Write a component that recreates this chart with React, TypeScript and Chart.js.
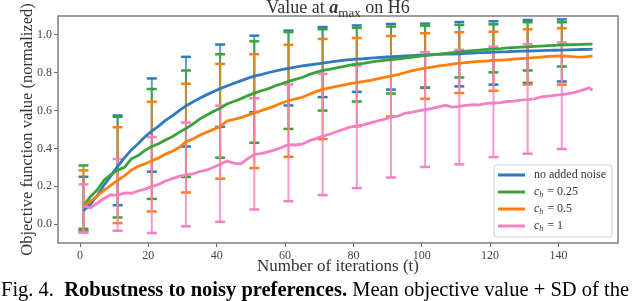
import React, { useEffect, useRef } from 'react';
import { Chart, registerables } from 'chart.js';

Chart.register(...registerables);

// ---- data ----
const iterations = [1, 3, 5, 7, 9, 11, 13, 15, 17, 19, 21, 23, 25, 27, 29, 31, 33, 35, 37, 39, 41, 43, 45, 47, 49, 51, 53, 55, 57, 59, 61, 63, 65, 67, 69, 71, 73, 75, 77, 79, 81, 83, 85, 87, 89, 91, 93, 95, 97, 99, 101, 103, 105, 107, 109, 111, 113, 115, 117, 119, 121, 123, 125, 127, 129, 131, 133, 135, 137, 139, 141, 143, 145, 147, 149, 150];

const noNoise = [0.070, 0.105, 0.150, 0.205, 0.255, 0.305, 0.350, 0.392, 0.425, 0.462, 0.492, 0.518, 0.548, 0.572, 0.600, 0.625, 0.645, 0.665, 0.683, 0.700, 0.716, 0.730, 0.744, 0.757, 0.770, 0.782, 0.790, 0.800, 0.808, 0.816, 0.823, 0.830, 0.836, 0.841, 0.846, 0.851, 0.856, 0.861, 0.865, 0.869, 0.872, 0.874, 0.877, 0.880, 0.882, 0.884, 0.887, 0.889, 0.891, 0.893, 0.895, 0.896, 0.897, 0.898, 0.899, 0.900, 0.902, 0.904, 0.906, 0.907, 0.909, 0.910, 0.911, 0.913, 0.914, 0.915, 0.916, 0.917, 0.918, 0.919, 0.920, 0.921, 0.922, 0.923, 0.924, 0.925];

const noise025 = [0.097, 0.145, 0.180, 0.232, 0.262, 0.285, 0.300, 0.345, 0.362, 0.390, 0.410, 0.425, 0.445, 0.462, 0.485, 0.505, 0.528, 0.555, 0.575, 0.595, 0.612, 0.635, 0.648, 0.662, 0.678, 0.692, 0.705, 0.715, 0.730, 0.742, 0.754, 0.765, 0.775, 0.790, 0.802, 0.812, 0.818, 0.826, 0.833, 0.840, 0.845, 0.850, 0.856, 0.861, 0.866, 0.870, 0.874, 0.878, 0.882, 0.886, 0.890, 0.894, 0.898, 0.902, 0.906, 0.910, 0.914, 0.917, 0.920, 0.923, 0.926, 0.928, 0.931, 0.933, 0.935, 0.937, 0.939, 0.941, 0.943, 0.945, 0.947, 0.948, 0.949, 0.950, 0.951, 0.951];

const noise05 = [0.097, 0.120, 0.148, 0.178, 0.205, 0.232, 0.255, 0.285, 0.305, 0.318, 0.335, 0.350, 0.370, 0.385, 0.405, 0.435, 0.450, 0.470, 0.485, 0.500, 0.515, 0.545, 0.553, 0.562, 0.575, 0.588, 0.600, 0.612, 0.625, 0.640, 0.652, 0.662, 0.670, 0.685, 0.700, 0.712, 0.720, 0.728, 0.735, 0.742, 0.748, 0.754, 0.760, 0.768, 0.775, 0.782, 0.790, 0.800, 0.810, 0.818, 0.825, 0.830, 0.836, 0.840, 0.846, 0.851, 0.854, 0.857, 0.860, 0.862, 0.865, 0.867, 0.869, 0.872, 0.875, 0.877, 0.880, 0.883, 0.886, 0.888, 0.889, 0.887, 0.884, 0.883, 0.887, 0.889];

const noise1 = [0.097, 0.085, 0.110, 0.135, 0.155, 0.152, 0.165, 0.163, 0.175, 0.185, 0.198, 0.210, 0.228, 0.240, 0.252, 0.260, 0.265, 0.278, 0.285, 0.300, 0.316, 0.333, 0.322, 0.318, 0.345, 0.368, 0.372, 0.382, 0.392, 0.405, 0.420, 0.418, 0.422, 0.440, 0.452, 0.465, 0.475, 0.488, 0.500, 0.512, 0.518, 0.525, 0.535, 0.545, 0.553, 0.565, 0.570, 0.585, 0.590, 0.598, 0.605, 0.612, 0.620, 0.628, 0.618, 0.622, 0.628, 0.632, 0.630, 0.638, 0.640, 0.642, 0.648, 0.650, 0.655, 0.658, 0.662, 0.672, 0.676, 0.680, 0.684, 0.690, 0.698, 0.708, 0.720, 0.707];

const errX = [1, 11, 21, 31, 41, 51, 61, 71, 81, 91, 101, 111, 121, 131, 141];
const noNoiseHi = [0.25, 0.574, 0.77, 0.884, 0.949, 0.996, 1.023, 1.042, 1.05, 1.058, 1.06, 1.068, 1.072, 1.079, 1.082];
const noNoiseLo = [-0.035, 0.10, 0.277, 0.41, 0.514, 0.592, 0.627, 0.671, 0.699, 0.711, 0.72, 0.728, 0.737, 0.746, 0.754];
const noise025Hi = [0.31, 0.567, 0.714, 0.812, 0.898, 0.966, 1.015, 1.03, 1.037, 1.044, 1.049, 1.053, 1.056, 1.067, 1.067];
const noise025Lo = [-0.025, 0.035, 0.133, 0.249, 0.351, 0.43, 0.503, 0.6, 0.648, 0.69, 0.722, 0.775, 0.802, 0.812, 0.833];
const noise05Hi = [0.284, 0.512, 0.647, 0.742, 0.847, 0.898, 0.948, 0.979, 0.984, 0.994, 1.009, 1.014, 1.017, 1.03, 1.035];
const noise05Lo = [-0.04, 0.005, 0.067, 0.167, 0.24, 0.296, 0.356, 0.449, 0.517, 0.568, 0.662, 0.693, 0.705, 0.738, 0.737];
const noise1Hi = [0.21, 0.344, 0.46, 0.537, 0.626, 0.665, 0.738, 0.794, 0.838, 0.886, 0.909, 0.921, 0.938, 0.951, 0.96];
const noise1Lo = [-0.045, -0.035, -0.047, -0.012, 0.012, 0.077, 0.121, 0.153, 0.19, 0.246, 0.302, 0.316, 0.354, 0.372, 0.397];

const xTicks = [0, 20, 40, 60, 80, 100, 120, 140];
const yTicks = [0.0, 0.2, 0.4, 0.6, 0.8, 1.0];

const seriesNames = ['no added noise', 'c_h = 0.25', 'c_h = 0.5', 'c_h = 1'];
const seriesColors = ['#2f7bbd', '#3aa23a', '#ff7f0e', '#f47fc3'];
const seriesAlpha = ['rgba(47,123,189,0.75)', 'rgba(58,162,58,0.75)', 'rgba(255,127,14,0.75)', 'rgba(244,127,195,0.8)'];

const SERIF = '"Liberation Serif", "Times New Roman", serif';

const means = [noNoise, noise025, noise05, noise1];
const his = [noNoiseHi, noise025Hi, noise05Hi, noise1Hi];
const los = [noNoiseLo, noise025Lo, noise05Lo, noise1Lo];

const framePlugin = {
  id: 'frameAndLegend',
  afterDraw(chart: any) {
    const { ctx, chartArea } = chart;
    const { left, top, right, bottom } = chartArea;
    ctx.save();
    // frame
    ctx.strokeStyle = '#7d7d7d';
    ctx.lineWidth = 1.5;
    ctx.strokeRect(left, top, right - left, bottom - top);

    // legend
    const bw = 118;
    const bh = 72;
    const bx = right - 6 - bw;
    const by = bottom - 6 - bh;
    const r = 3;
    ctx.beginPath();
    ctx.moveTo(bx + r, by);
    ctx.lineTo(bx + bw - r, by);
    ctx.arcTo(bx + bw, by, bx + bw, by + r, r);
    ctx.lineTo(bx + bw, by + bh - r);
    ctx.arcTo(bx + bw, by + bh, bx + bw - r, by + bh, r);
    ctx.lineTo(bx + r, by + bh);
    ctx.arcTo(bx, by + bh, bx, by + bh - r, r);
    ctx.lineTo(bx, by + r);
    ctx.arcTo(bx, by, bx + r, by, r);
    ctx.closePath();
    ctx.fillStyle = 'rgba(255,255,255,0.85)';
    ctx.fill();
    ctx.strokeStyle = '#d0d0d0';
    ctx.lineWidth = 1;
    ctx.stroke();

    seriesNames.forEach((name, i) => {
      const yy = by + 10 + i * 17;
      ctx.strokeStyle = seriesColors[i];
      ctx.lineWidth = 3;
      ctx.beginPath();
      ctx.moveTo(bx + 4, yy);
      ctx.lineTo(bx + 31, yy);
      ctx.stroke();
      ctx.fillStyle = '#333';
      ctx.textBaseline = 'middle';
      ctx.textAlign = 'left';
      let tx = bx + 40;
      if (name.startsWith('c_h')) {
        ctx.font = `italic 12px ${SERIF}`;
        ctx.fillText('c', tx, yy);
        tx += ctx.measureText('c').width;
        ctx.font = `italic 8px ${SERIF}`;
        ctx.fillText('h', tx, yy + 3);
        tx += ctx.measureText('h').width + 1;
        ctx.font = `12px ${SERIF}`;
        ctx.fillText(name.slice(3), tx, yy);
      } else {
        ctx.font = `12px ${SERIF}`;
        ctx.fillText(name, tx, yy);
      }
    });
    ctx.restore();
  },
};

export default function App() {
  const ref = useRef<HTMLCanvasElement | null>(null);

  useEffect(() => {
    if (!ref.current) return;
    const datasets: any[] = [];
    means.forEach((m, i) => {
      datasets.push({
        label: seriesNames[i],
        data: iterations.map((x, k) => ({ x, y: m[k] })),
        borderColor: seriesColors[i],
        backgroundColor: seriesColors[i],
        borderWidth: 2.8,
        pointRadius: 0,
        tension: 0,
        order: 4 - i,
      });
    });
    his.forEach((hi, i) => {
      const pts: any[] = [];
      errX.forEach((x, k) => {
        pts.push({ x, y: los[i][k] });
        pts.push({ x, y: hi[k] });
        pts.push({ x, y: null });
      });
      datasets.push({
        label: seriesNames[i] + ' SD',
        data: pts,
        borderColor: seriesAlpha[i],
        borderWidth: 2,
        spanGaps: false,
        pointStyle: 'line',
        pointRadius: 5,
        pointBorderWidth: 2.5,
        pointBorderColor: seriesColors[i],
        pointBackgroundColor: seriesColors[i],
        order: 14 - i,
      });
    });

    const chart = new Chart(ref.current, {
      type: 'line',
      data: { datasets },
      plugins: [framePlugin],
      options: {
        responsive: false,
        animation: false,
        events: [],
        layout: { padding: { left: 0, top: 16, right: 22, bottom: 23 } },
        plugins: {
          legend: { display: false },
          tooltip: { enabled: false },
          title: { display: false },
        },
        scales: {
          x: {
            type: 'linear',
            min: -6.45,
            max: 157.45,
            afterBuildTicks: (scale: any) => {
              scale.ticks = xTicks.map((v) => ({ value: v }));
            },
            afterFit: (scale: any) => {
              scale.height = 35;
            },
            ticks: {
              color: '#444',
              font: { family: SERIF, size: 12 },
              padding: 2,
              maxRotation: 0,
              autoSkip: false,
            },
            grid: { drawOnChartArea: false, tickLength: 4, color: '#666' },
            border: { display: false },
            title: {
              display: true,
              text: 'Number of iterations (t)',
              color: '#333',
              font: { family: SERIF, size: 17 },
              padding: { top: 0, bottom: 1 },
            },
          },
          y: {
            type: 'linear',
            min: -0.1,
            max: 1.1,
            afterBuildTicks: (scale: any) => {
              scale.ticks = yTicks.map((v) => ({ value: v }));
            },
            afterFit: (scale: any) => {
              scale.width = 58;
            },
            ticks: {
              color: '#444',
              font: { family: SERIF, size: 12 },
              padding: 2,
              callback: (v: any) => Number(v).toFixed(1),
            },
            grid: { drawOnChartArea: false, tickLength: 4, color: '#666' },
            border: { display: false },
            title: {
              display: true,
              text: 'Objective function value (normalized)',
              color: '#333',
              font: { family: SERIF, size: 16.5 },
              padding: { top: 18, bottom: 0 },
            },
          },
        },
      },
    });
    return () => chart.destroy();
  }, []);

  return (
    <div
      style={{
        position: 'absolute',
        left: 0,
        top: 0,
        width: 640,
        height: 301,
        overflow: 'hidden',
        background: '#fff',
      }}
    >
      <canvas ref={ref} width={640} height={301} style={{ position: 'absolute', left: 0, top: 0 }} />
      <div
        style={{
          position: 'absolute',
          top: -2,
          left: 338,
          transform: 'translateX(-50%)',
          whiteSpace: 'nowrap',
          fontFamily: SERIF,
          fontSize: 18,
          lineHeight: 1,
          color: '#333',
        }}
      >
        Value at <b><i>a</i></b>
        <span style={{ fontSize: 13, position: 'relative', top: 4 }}>max</span> on H6
      </div>
      <div
        style={{
          position: 'absolute',
          top: 279,
          left: 1,
          whiteSpace: 'nowrap',
          fontFamily: SERIF,
          fontSize: 20.5,
          lineHeight: 1,
          color: '#000',
        }}
      >
        Fig. 4.&nbsp;&nbsp;<b>Robustness to noisy preferences.</b> Mean objective value + SD of the
      </div>
    </div>
  );
}
